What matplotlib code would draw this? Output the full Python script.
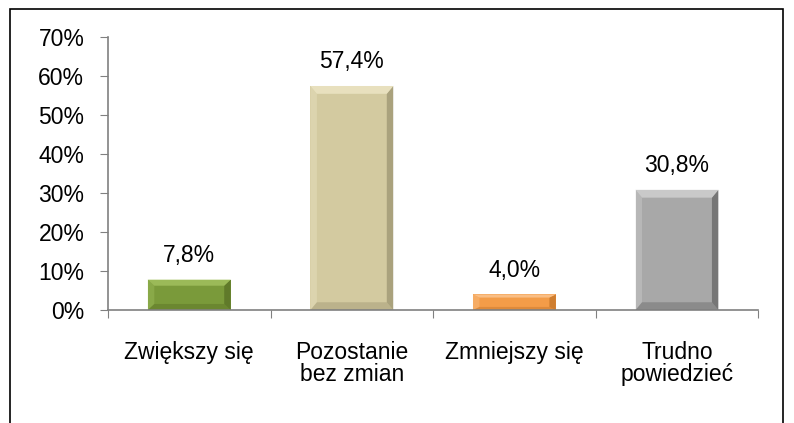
import matplotlib.pyplot as plt
from matplotlib.patches import Rectangle, Polygon

categories = ["Zwiększy się", "Pozostanie\nbez zmian", "Zmniejszy się", "Trudno\npowiedzieć"]
values = [7.8, 57.4, 4.0, 30.8]
colors = ["#7a9a3a", "#d3caa0", "#f39c48", "#a8a8a8"]
lights = ["#a2c05e", "#ece5c4", "#fbc590", "#cfcfcf"]
darks = ["#4f6620", "#8f8866", "#b86a20", "#555555"]
yticks = [0, 10, 20, 30, 40, 50, 60, 70]

plt.rcParams['font.family'] = ['Liberation Sans', 'DejaVu Sans']

fig = plt.figure(figsize=(7.94, 4.23), dpi=100)
ax = fig.add_axes([0.136, 0.267, 0.819, 0.646])

x = range(len(categories))
bars = ax.bar(x, values, width=0.51, color=colors, linewidth=0, zorder=2)

# bevel edges: light on top/left, dark on right/bottom
for b, lc, dc in zip(bars, lights, darks):
    x0, w, h = b.get_x(), b.get_width(), b.get_height()
    x1 = x0 + w
    by = min(2.0, h * 0.2)
    bx = 0.04
    top = Polygon([(x0, h), (x1, h), (x1 - bx, h - by), (x0 + bx, h - by)],
                  facecolor=lc, alpha=0.85, linewidth=0, zorder=3)
    left = Polygon([(x0, 0), (x0, h), (x0 + bx, h - by), (x0 + bx, by)],
                   facecolor=lc, alpha=0.4, linewidth=0, zorder=3)
    right = Polygon([(x1, 0), (x1, h), (x1 - bx, h - by), (x1 - bx, by)],
                    facecolor=dc, alpha=0.6, linewidth=0, zorder=3)
    bottom = Polygon([(x0, 0), (x1, 0), (x1 - bx, by), (x0 + bx, by)],
                     facecolor=dc, alpha=0.35, linewidth=0, zorder=3)
    for p in (left, right, bottom, top):
        ax.add_patch(p)

for i, v in enumerate(values):
    ax.annotate(f"{v:.1f}%".replace(".", ","), (i, v), xytext=(0, 9),
                textcoords="offset points", ha="center", va="bottom", fontsize=16.5)

ax.set_xlim(-0.5, 3.5)
ax.set_ylim(0, 70)
ax.set_yticks(yticks)
ax.set_yticklabels([f"{t}%" for t in yticks], fontsize=16.5)
ax.set_xticks([-0.5, 0.5, 1.5, 2.5, 3.5])
ax.set_xticklabels([])
ax.set_xticks(list(x), minor=True)
ax.set_xticklabels(categories, minor=True, fontsize=16.5, linespacing=0.95)
ax.tick_params(axis="x", which="minor", length=0, pad=22)
ax.tick_params(axis="x", which="major", length=6, color="#808080", direction="out")
ax.tick_params(axis="y", length=6, color="#808080", pad=11)
for s in ["top", "right"]:
    ax.spines[s].set_visible(False)
for s in ["left", "bottom"]:
    ax.spines[s].set_color("#808080")
    ax.spines[s].set_linewidth(1.2)
    ax.spines[s].set_zorder(4)

fig.patches.append(Rectangle((10 / 794, -0.05), 773 / 794, 1.05 - 9 / 423,
                             transform=fig.transFigure, fill=False,
                             edgecolor="black", linewidth=1.2))

fig.savefig("out.png", dpi=100)
